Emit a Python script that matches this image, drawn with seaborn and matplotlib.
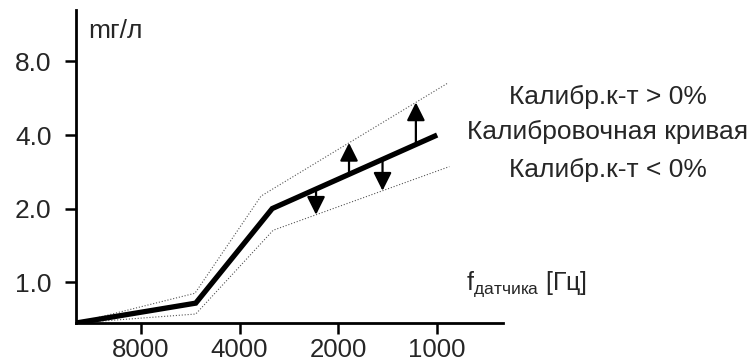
#!/usr/bin/env python3
# Calibration curve of the sensor: concentration vs. sensor frequency,
# with the bands for positive / negative calibration coefficient.
import matplotlib
matplotlib.use('Agg')
import matplotlib.pyplot as plt
import numpy as np
import pandas as pd
import seaborn as sns

# sensor frequency [Hz] at the break points of each curve
freq_main = [12600, 5440, 3180, 1000]
freq_upper = [12600, 5470, 3440, 924]
freq_lower = [12600, 5440, 3160, 918]

# concentration [mg/l]
conc_main = [0.68, 0.82, 2.0, 4.0]
conc_upper = [0.68, 0.90, 2.25, 6.55]
conc_lower = [0.68, 0.74, 1.63, 2.97]

# frequencies where the shift arrows are drawn
arrow_up_freq = [1856, 1161]
arrow_down_freq = [2339, 1467]

x_ticks = [8000, 4000, 2000, 1000]
y_ticks = [1.0, 2.0, 4.0, 8.0]
y_ticklabels = ['1.0', '2.0', '4.0', '8.0']

legend_lines = ['Калибр.к-т > 0%', 'Калибровочная кривая', 'Калибр.к-т < 0%']


def loglog_interp(f, xs, ys):
    # interpolate along a polyline drawn in log-log space
    lx = np.log(xs)[::-1]
    ly = np.log(ys)[::-1]
    return float(np.exp(np.interp(np.log(f), lx, ly)))


if __name__ == '__main__':
    sns.set_style('white')
    plt.rcParams['font.family'] = ['Liberation Sans', 'DejaVu Sans']
    plt.rcParams['mathtext.fontset'] = 'custom'
    plt.rcParams['mathtext.rm'] = 'Liberation Sans'

    df = pd.concat([
        pd.DataFrame({'f': freq_main, 'c': conc_main, 'curve': 'main'}),
        pd.DataFrame({'f': freq_upper, 'c': conc_upper, 'curve': 'upper'}),
        pd.DataFrame({'f': freq_lower, 'c': conc_lower, 'curve': 'lower'}),
    ])

    fig = plt.figure(figsize=(7.51, 3.63), dpi=100)
    ax = fig.add_axes([0.1012, 0.1102, 0.5686, 0.8623])

    # bounds (thin dotted) and calibration curve (thick)
    for name, lw, ls, col in [('upper', 0.8, ':', '#555555'),
                              ('lower', 0.8, ':', '#555555'),
                              ('main', 3.8, '-', 'black')]:
        sns.lineplot(data=df[df['curve'] == name], x='f', y='c', ax=ax,
                     sort=False, estimator=None, lw=lw, ls=ls, color=col,
                     solid_capstyle='butt', solid_joinstyle='miter')

    ax.set_xscale('log', base=2)
    ax.set_yscale('log', base=2)
    ax.set_xlim(freq_main[0], 630)
    ax.set_ylim(conc_main[0], 13)

    # arrows from the calibration curve to the bounds
    aprops = dict(arrowstyle='-|>,head_length=1.1,head_width=0.55',
                  mutation_scale=10, color='black', lw=1.6,
                  shrinkA=0, shrinkB=0)
    for f in arrow_up_freq:
        y0 = loglog_interp(f, freq_main, conc_main)
        y1 = loglog_interp(f, freq_upper, conc_upper)
        ax.annotate('', xy=(f, y1), xytext=(f, y0), arrowprops=aprops)
    for f in arrow_down_freq:
        y0 = loglog_interp(f, freq_main, conc_main)
        y1 = loglog_interp(f, freq_lower, conc_lower)
        ax.annotate('', xy=(f, y1), xytext=(f, y0), arrowprops=aprops)

    # ticks and spines
    ax.set_xticks(x_ticks)
    ax.set_xticklabels([str(t) for t in x_ticks])
    ax.set_yticks(y_ticks)
    ax.set_yticklabels(y_ticklabels)
    ax.minorticks_off()
    ax.tick_params(axis='both', which='major', direction='out', length=8,
                   width=1.8, color='black', labelsize=19)
    ax.tick_params(axis='y', pad=9.5)
    ax.tick_params(axis='x', pad=3, labelsize=18.5)
    ax.tick_params(left=True, bottom=True)
    ax.set_xlabel('')
    ax.set_ylabel('')
    sns.despine(ax=ax)
    for s in ['left', 'bottom']:
        ax.spines[s].set_linewidth(2.0)
        ax.spines[s].set_color('black')

    # axis titles
    ax.text(0.028, 0.9105, 'mг/л', transform=ax.transAxes, fontsize=19,
            ha='left', va='baseline')
    ax.text(0.913, 0.105, r'f$_{\mathrm{датчика}}$ [Гц]',
            transform=ax.transAxes, fontsize=18, ha='left', va='baseline')

    # legend text on the right
    for y, txt in zip([0.733, 0.636, 0.532], legend_lines):
        fig.text(0.809, y, txt, fontsize=19, ha='center', va='center')

    fig.savefig('out.png', dpi=100, facecolor='white')
